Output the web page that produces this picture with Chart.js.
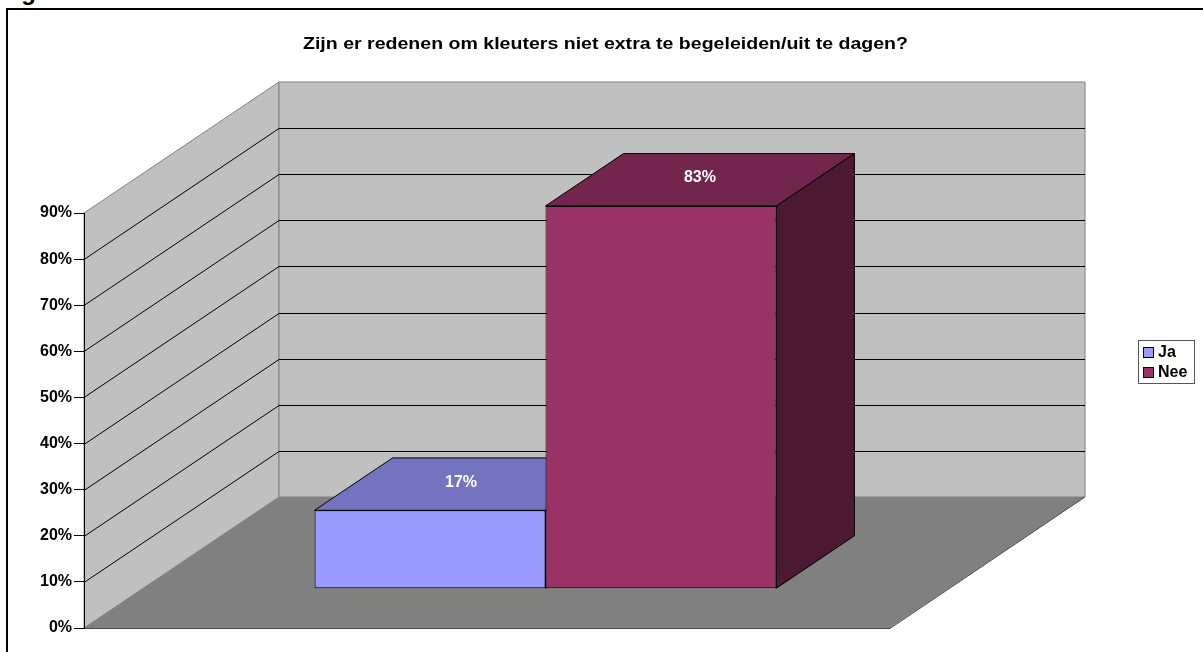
<!DOCTYPE html>
<html>
<head>
<meta charset="utf-8">
<script src="https://cdn.jsdelivr.net/npm/chart.js@4/dist/chart.umd.min.js"></script>
<style>
  html, body { margin: 0; padding: 0; background: #fff; overflow: hidden; }
  #wrap { position: relative; width: 1203px; height: 652px; overflow: hidden; }
  #frame { position: absolute; left: 6px; top: 8px; width: 1300px; height: 700px; border: 2px solid #000; }
  #fig { position: absolute; left: 0; top: -20px; font: bold 24px "Liberation Sans", Arial, sans-serif; line-height: 24px; color: #000; white-space: nowrap; }
  canvas { position: absolute; left: 0; top: 0; }
</style>
</head>
<body>
<div id="wrap">
  <div id="fig">Figuur 1</div>
  <div id="frame"></div>
  <canvas id="chart" width="1203" height="652"></canvas>
</div>
<script>
const title = 'Zijn er redenen om kleuters niet extra te begeleiden/uit te dagen?';
const categories = [''];
const seriesNames = ['Ja', 'Nee'];
const jaValues = [0.17];
const neeValues = [0.83];
const valueLabels = [['17%'], ['83%']];

const frontColors = ['#9999FF', '#993366'];
const topColors = ['#7373BF', '#73264D'];
const sideColors = ['#4D4D80', '#4C1933'];

const FONT = '"Liberation Sans", Arial, sans-serif';
const DX = 195, DY = -131;          // depth of the floor / walls
const BAR_FRONT = 0.3, BAR_BACK = 0.7;

function poly(ctx, pts, fill, stroke) {
    ctx.beginPath();
    ctx.moveTo(pts[0][0], pts[0][1]);
    for (let i = 1; i < pts.length; i++) ctx.lineTo(pts[i][0], pts[i][1]);
    ctx.closePath();
    if (fill) { ctx.fillStyle = fill; ctx.fill(); }
    if (stroke) { ctx.strokeStyle = stroke; ctx.lineWidth = 1; ctx.stroke(); }
}

const box3d = {
    id: 'box3d',
    beforeDraw(chart) {
        const { ctx, chartArea: a, scales: { y } } = chart;
        ctx.save();
        // left wall
        poly(ctx, [[a.left, a.bottom], [a.left + DX, a.bottom + DY], [a.left + DX, a.top + DY], [a.left, a.top]], '#C0C0C0', '#808080');
        // back wall
        poly(ctx, [[a.left + DX, a.top + DY], [a.right + DX, a.top + DY], [a.right + DX, a.bottom + DY], [a.left + DX, a.bottom + DY]], '#C0C0C0', '#808080');
        // floor
        poly(ctx, [[a.left, a.bottom], [a.right, a.bottom], [a.right + DX, a.bottom + DY], [a.left + DX, a.bottom + DY]], '#808080', null);
        ctx.strokeStyle = '#4A4A4A';
        ctx.lineWidth = 1;
        ctx.beginPath();
        ctx.moveTo(a.left, a.bottom + 0.5);
        ctx.lineTo(a.right, a.bottom + 0.5);
        ctx.lineTo(a.right + DX, a.bottom + DY);
        ctx.stroke();
        // gridlines on the walls
        ctx.strokeStyle = '#000';
        y.ticks.forEach(t => {
            if (t.value <= 0 || t.value >= y.max - 1e-9) return;
            const py = Math.round(y.getPixelForValue(t.value)) + 0.5;
            ctx.beginPath();
            ctx.moveTo(a.left, py);
            ctx.lineTo(a.left + DX, py + DY);
            ctx.lineTo(a.right + DX, py + DY);
            ctx.stroke();
        });
        ctx.restore();

        // title, stretched a little to the width of the original
        ctx.save();
        ctx.fillStyle = '#000';
        ctx.font = 'bold 17px ' + FONT;
        ctx.textAlign = 'center';
        ctx.textBaseline = 'middle';
        const s = 605 / ctx.measureText(title).width;
        ctx.translate(605.5, 44);
        ctx.scale(s, 1);
        ctx.fillText(title, 0, 0);
        ctx.restore();
    },
    beforeDatasetsDraw(chart) {
        const ctx = chart.ctx;
        const fx = BAR_FRONT * DX, fy = BAR_FRONT * DY;
        const bx = BAR_BACK * DX, by = BAR_BACK * DY;
        ctx.save();
        chart.data.datasets.forEach((ds, i) => {
            chart.getDatasetMeta(i).data.forEach(el => {
                const { x, y, base, width } = el.getProps(['x', 'y', 'base', 'width'], true);
                const l = x - width / 2, r = x + width / 2;
                poly(ctx, [[l + fx, y + fy], [r + fx, y + fy], [r + bx, y + by], [l + bx, y + by]], topColors[i], '#000');
                poly(ctx, [[r + fx, y + fy], [r + bx, y + by], [r + bx, base + by], [r + fx, base + fy]], sideColors[i], '#000');
            });
        });
        ctx.restore();
    },
    beforeDatasetDraw(chart) {
        chart.ctx.save();
        chart.ctx.translate(BAR_FRONT * DX, BAR_FRONT * DY);
    },
    afterDatasetDraw(chart) {
        chart.ctx.restore();
    },
    afterDatasetsDraw(chart) {
        const ctx = chart.ctx;
        const mx = (BAR_FRONT + BAR_BACK) / 2 * DX, my = (BAR_FRONT + BAR_BACK) / 2 * DY;
        ctx.save();
        ctx.fillStyle = '#fff';
        ctx.font = 'bold 16px ' + FONT;
        ctx.textAlign = 'center';
        ctx.textBaseline = 'middle';
        chart.data.datasets.forEach((ds, i) => {
            chart.getDatasetMeta(i).data.forEach((el, j) => {
                ctx.fillText(valueLabels[i][j], el.x + mx - (i === 0 ? 8 : 0), el.y + my - 2);
            });
        });
        ctx.restore();
    },
    afterDraw(chart) {
        // legend
        const ctx = chart.ctx;
        ctx.save();
        ctx.strokeStyle = '#555';
        ctx.lineWidth = 1;
        ctx.strokeRect(1138.5, 340.5, 56, 43);
        ctx.font = 'bold 16px ' + FONT;
        ctx.textBaseline = 'middle';
        seriesNames.forEach((name, i) => {
            const cy = 352 + i * 20;
            ctx.fillStyle = frontColors[i];
            ctx.fillRect(1143.5, cy - 4.5, 10, 10);
            ctx.strokeStyle = '#000';
            ctx.strokeRect(1143.5, cy - 4.5, 10, 10);
            ctx.fillStyle = '#000';
            ctx.fillText(name, 1158, cy + 1);
        });
        ctx.restore();
    }
};

new Chart(document.getElementById('chart'), {
    type: 'bar',
    data: {
        labels: categories,
        datasets: [
            { label: seriesNames[0], data: jaValues, backgroundColor: frontColors[0] },
            { label: seriesNames[1], data: neeValues, backgroundColor: frontColors[1] }
        ]
    },
    options: {
        responsive: false,
        animation: false,
        devicePixelRatio: 1,
        layout: { padding: { top: 213, right: 313, bottom: 24, left: 0 } },
        datasets: {
            bar: {
                categoryPercentage: 0.573,
                barPercentage: 1,
                borderColor: '#000',
                borderWidth: 1,
                borderSkipped: false,
                clip: false
            }
        },
        scales: {
            x: { display: false },
            y: {
                min: 0,
                max: 0.9,
                afterFit(scale) { scale.width = 84; },
                grid: { drawOnChartArea: false, drawTicks: true, tickLength: 10, color: '#000' },
                border: { display: true, color: '#000', width: 1 },
                ticks: {
                    stepSize: 0.1,
                    padding: 2,
                    color: '#000',
                    font: { family: FONT, size: 16, weight: 'bold' },
                    callback: v => Math.round(v * 100) + '%'
                }
            }
        },
        plugins: {
            legend: { display: false },
            title: { display: false },
            tooltip: { enabled: false }
        }
    },
    plugins: [box3d]
});
</script>
</body>
</html>
